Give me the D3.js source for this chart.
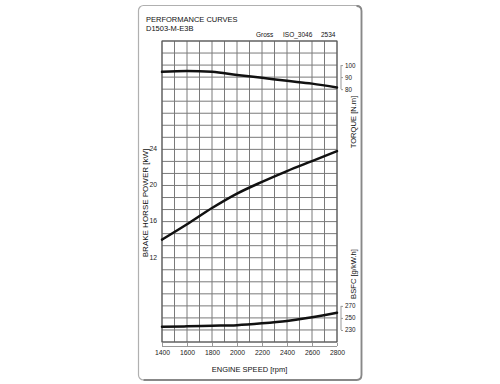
<!DOCTYPE html>
<html><head><meta charset="utf-8">
<script src="https://cdn.jsdelivr.net/npm/d3@7"></script>
<style>
html,body{margin:0;padding:0;background:#fff;}
svg{display:block;font-family:"Liberation Sans",Arial,sans-serif;}
</style></head>
<body><svg id="c" width="500" height="384"></svg>
<script>
// ---- data ----
const rpm    = [1400, 1600, 1800, 2000, 2200, 2400, 2600, 2800];
const torque = [94.4, 95.0, 94.4, 91.8, 89.4, 86.9, 84.6, 81.4];      // N.m
const power  = [14.0, 15.7, 17.5, 19.1, 20.4, 21.6, 22.7, 23.8];      // kW
const bsfc   = [235.3, 236.0, 237.0, 238.0, 241.0, 245.0, 251.0, 258.7]; // g/kW.h
const xTicks = [1400, 1600, 1800, 2000, 2200, 2400, 2600, 2800];
const powerTicks  = [12, 16, 20, 24];
const torqueTicks = [80, 90, 100];
const bsfcTicks   = [230, 250, 270];
const titleLines = ["PERFORMANCE CURVES", "D1503-M-E3B"];
const subTitle = ["Gross", "ISO_3046", "2534"];

const svg = d3.select("#c");
const L = 162, R = 337, T = 41, B = 342;

// scales
const x  = d3.scaleLinear().domain([1400, 2800]).range([L, R]);
const yT = d3.scaleLinear().domain([-130, 120]).range([B, T]);      // 10 N.m per row
const yP = d3.scaleLinear().domain([24 - 16 * 4 / 3, 36]).range([B, T]); // 4 kW per 3 rows
const yB = d3.scaleLinear().domain([210, 710]).range([B, T]);       // 20 g/kWh per row

// outer frame
svg.append("rect").attr("x", 138.5).attr("y", 5.5).attr("width", 223).attr("height", 374.5)
  .attr("rx", 5).attr("fill", "#fff").attr("stroke", "#b0b0b0").attr("stroke-width", 1.2);
svg.append("path").attr("d", "M356.5,6 Q361.5,6 361.5,11 L361.5,375 Q361.5,380 356.5,380 L143.5,380")
  .attr("fill", "none").attr("stroke", "#888").attr("stroke-width", 1.8);

// grid
const g = svg.append("g");
g.selectAll(".vg").data(d3.range(1400, 2801, 100)).join("line")
  .attr("x1", d => x(d)).attr("x2", d => x(d)).attr("y1", T).attr("y2", B)
  .attr("stroke", "#7a7a7a").attr("stroke-width", 1);
g.selectAll(".hg").data(d3.range(-130, 121, 10)).join("line")
  .attr("x1", L).attr("x2", R).attr("y1", d => yT(d)).attr("y2", d => yT(d))
  .attr("stroke", "#7a7a7a").attr("stroke-width", 1);
g.append("rect").attr("x", L).attr("y", T).attr("width", R - L).attr("height", B - T)
  .attr("fill", "none").attr("stroke", "#555").attr("stroke-width", 1);

// curves
const line = (ys, sc) => d3.line().x((d, i) => x(rpm[i])).y(d => sc(d)).curve(d3.curveMonotoneX)(ys);
[[torque, yT], [power, yP], [bsfc, yB]].forEach(([ys, sc]) => {
  svg.append("path").attr("d", line(ys, sc)).attr("fill", "none")
    .attr("stroke", "#111").attr("stroke-width", 2.5).attr("stroke-linecap", "round");
});

function style(sel, fs) {
  sel.selectAll("text").attr("font-size", fs).attr("fill", "#222").attr("font-family", "Liberation Sans, Arial, sans-serif");
  sel.selectAll("line").attr("stroke", "#999");
  sel.selectAll("path.domain").attr("stroke", "#999");
}

// bottom axis
const ax = svg.append("g").attr("transform", `translate(0,346)`)
  .call(d3.axisBottom(x).tickValues(xTicks).tickSize(-3).tickSizeOuter(0).tickPadding(4).tickFormat(d3.format("d")));
ax.select(".domain").remove();
ax.append("line").attr("x1", L).attr("x2", R).attr("y1", 0.5).attr("y2", 0.5);
style(ax, 6.8);

// left power axis
const al = svg.append("g").attr("transform", `translate(${L},0)`)
  .call(d3.axisLeft(yP).tickValues(powerTicks).tickSize(0).tickPadding(5));
al.select(".domain").remove();
al.selectAll("text").attr("dy", "0.2em");
style(al, 6.8);

// right torque / bsfc axes with bracket
function rightAxis(sc, vals) {
  const a = svg.append("g").attr("transform", `translate(341,0)`)
    .call(d3.axisRight(sc).tickValues(vals).tickSize(2).tickPadding(2));
  a.select(".domain").remove();
  a.append("line").attr("x1", 0).attr("x2", 0)
    .attr("y1", sc(d3.min(vals))).attr("y2", sc(d3.max(vals)));
  style(a, 6.3);
}
rightAxis(yT, torqueTicks);
rightAxis(yB, bsfcTicks);

// axis titles
const tt = (txt, xx, yy, fs) => svg.append("text").text(txt)
  .attr("transform", `translate(${xx},${yy}) rotate(-90)`).attr("text-anchor", "middle")
  .attr("font-size", fs).attr("fill", "#111");
tt("BRAKE HORSE POWER [kW]", 148, 203, 8);
tt("TORQUE [N.m]", 356, 122, 7.6);
tt("BSFC [g/kW.h]", 356, 274, 7.6);
svg.append("text").text("ENGINE SPEED [rpm]").attr("x", (L + R) / 2).attr("y", 372)
  .attr("text-anchor", "middle").attr("font-size", 7.5).attr("fill", "#111");

// header
svg.append("text").text(titleLines[0]).attr("x", 146).attr("y", 22).attr("font-size", 7.5).attr("fill", "#111");
svg.append("text").text(titleLines[1]).attr("x", 146).attr("y", 31).attr("font-size", 7.5).attr("fill", "#111");
const sx = [256, 283, 321];
subTitle.forEach((s, i) => svg.append("text").text(s).attr("x", sx[i]).attr("y", 37)
  .attr("font-size", 6.5).attr("fill", "#111"));
</script></body></html>
